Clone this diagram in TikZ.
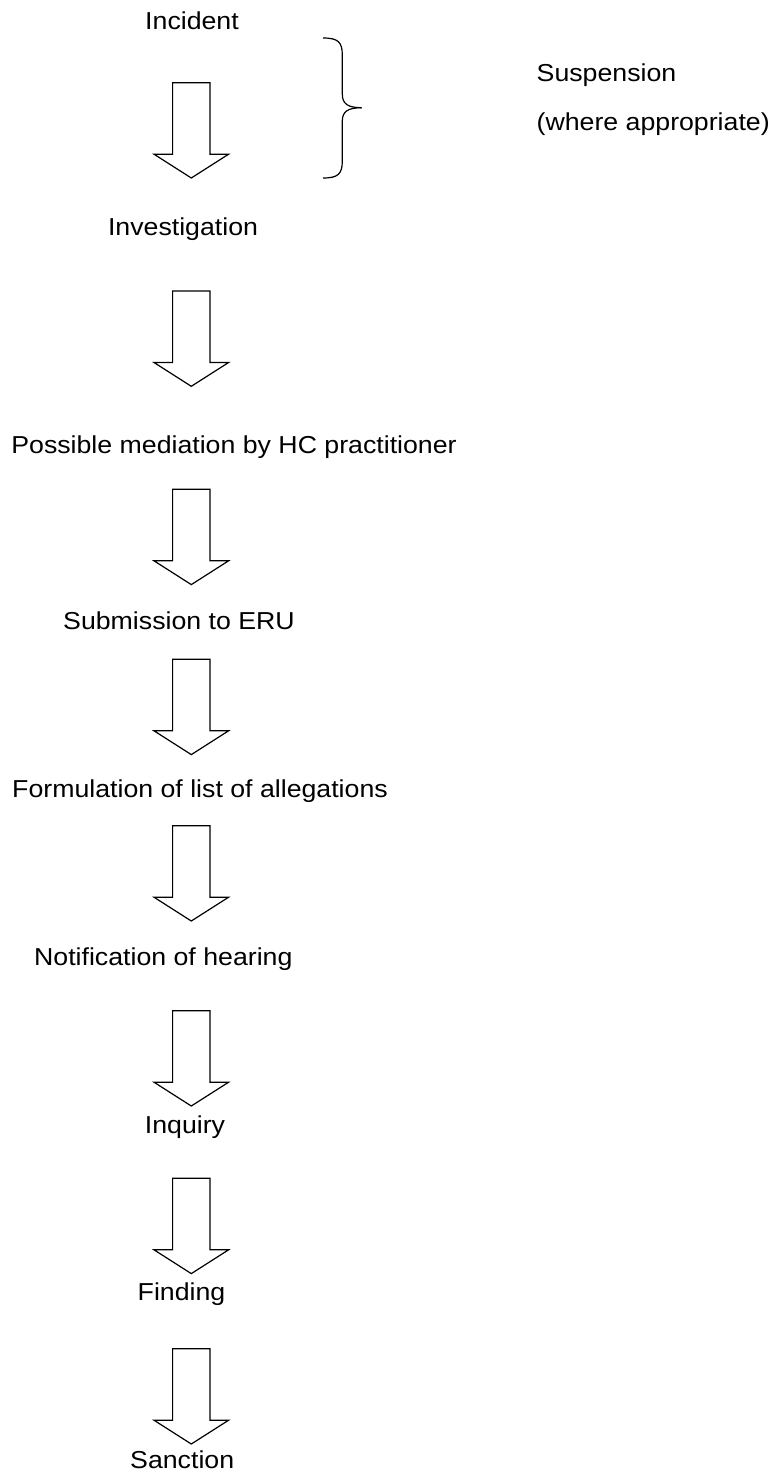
\documentclass[tikz,border=0pt]{standalone}
\usepackage{fontspec}
\setmainfont{Liberation Sans}
\newcommand{\lbl}[1]{\scalebox{1.09}[1]{#1}}
\begin{document}
\begin{tikzpicture}[x=1pt,y=-1pt,
  lab/.style={inner sep=0pt,anchor=base,font=\fontsize{24.5}{29}\selectfont},
  labw/.style={inner sep=0pt,anchor=base west,font=\fontsize{24.5}{29}\selectfont},
  blockarrow/.pic={\draw[line width=1.2pt,line join=miter]
     (-18.7,0) -- (18.7,0) -- (18.7,71.5) -- (37.3,71.5) -- (0,95.3)
     -- (-37.3,71.5) -- (-18.7,71.5) -- cycle;}]
\useasboundingbox (0,0) rectangle (778,1475);
% texts
\node[lab] (incident) at (192,29.3) {\lbl{Incident}};
\node[lab] (invest) at (183,235) {\lbl{Investigation}};
\node[lab] (mediation) at (234,453.3) {\lbl{Possible mediation by HC practitioner}};
\node[lab] (submission) at (179,629.3) {\lbl{Submission to ERU}};
\node[lab] (formulation) at (200,797.7) {\lbl{Formulation of list of allegations}};
\node[lab] (notification) at (163.3,965) {\lbl{Notification of hearing}};
\node[lab] (inquiry) at (185,1133.3) {\lbl{Inquiry}};
\node[lab] (finding) at (181.5,1300.7) {\lbl{Finding}};
\node[lab] (sanction) at (182.2,1468.3) {\lbl{Sanction}};
\node[labw] (suspension) at (536.5,81.7) {\lbl{Suspension}};
\node[labw] (where) at (536.5,130.5) {\lbl{(where appropriate)}};
% block arrows
\foreach \n/\y in {a1/82.7,a2/291,a3/489.3,a4/659.3,a5/825.7,a6/1010.7,a7/1178.3,a8/1348.7}{
  \coordinate (\n) at (191.3,\y);
  \pic at (\n) {blockarrow};
}
% brace
\coordinate (btop) at (323,38);
\coordinate (btip) at (361.7,107.7);
\coordinate (bbot) at (323,178);
\draw[line width=1.2pt] (btop) .. controls (338,38) and (342.3,42) .. (342.3,55) -- (342.3,94)
  .. controls (342.3,104) and (348,107.7) .. (btip);
\draw[line width=1.2pt] (btip) .. controls (348,107.7) and (342.3,111.5) .. (342.3,121) -- (342.3,161)
  .. controls (342.3,174) and (338,178) .. (bbot);
\end{tikzpicture}
\end{document}
